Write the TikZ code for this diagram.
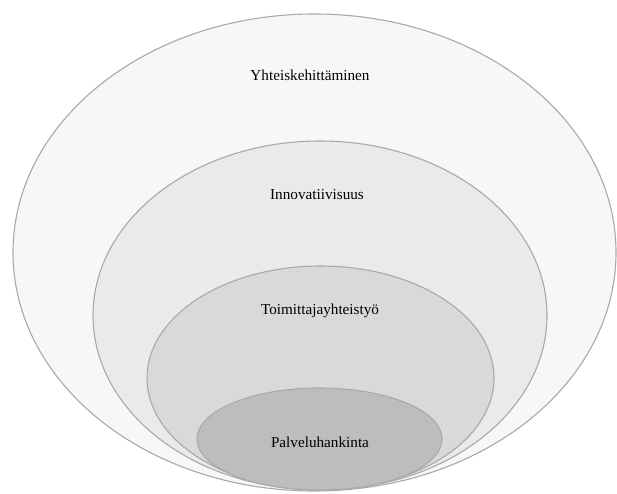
\documentclass[tikz,border=0pt]{standalone}
\usepackage{fontspec}
\setmainfont{Liberation Serif}
\usetikzlibrary{shapes.geometric}
\definecolor{edgegray}{HTML}{A9A9A9}
\definecolor{fillA}{HTML}{F7F7F7}
\definecolor{fillB}{HTML}{EBEAEB}
\definecolor{fillC}{HTML}{DAD9DA}
\definecolor{fillD}{HTML}{BEBDBE}
\begin{document}
\begin{tikzpicture}[x=1pt,y=-1pt,
  ring/.style={ellipse, draw=edgegray, line width=1.1pt, inner sep=0pt},
  lbl/.style={font=\fontsize{15.2}{17}\selectfont, text=black}]
\useasboundingbox (0,0) rectangle (617,494);
\node[ring, fill=fillA, minimum width=603pt, minimum height=477pt] (e1) at (314.5,252.5) {};
\node[ring, fill=fillB, minimum width=454pt, minimum height=349pt] (e2) at (320,315.5) {};
\node[ring, fill=fillC, minimum width=347pt, minimum height=224pt] (e3) at (320.5,378) {};
\node[ring, fill=fillD, minimum width=245pt, minimum height=102pt] (e4) at (319.5,439) {};
\node[lbl] (t1) at (310,75) {Yhteiskehittäminen};
\node[lbl] (t2) at (317,195) {Innovatiivisuus};
\node[lbl] (t3) at (320,311) {Toimittajayhteistyö};
\node[lbl] (t4) at (320,442) {Palveluhankinta};
\end{tikzpicture}
\end{document}
